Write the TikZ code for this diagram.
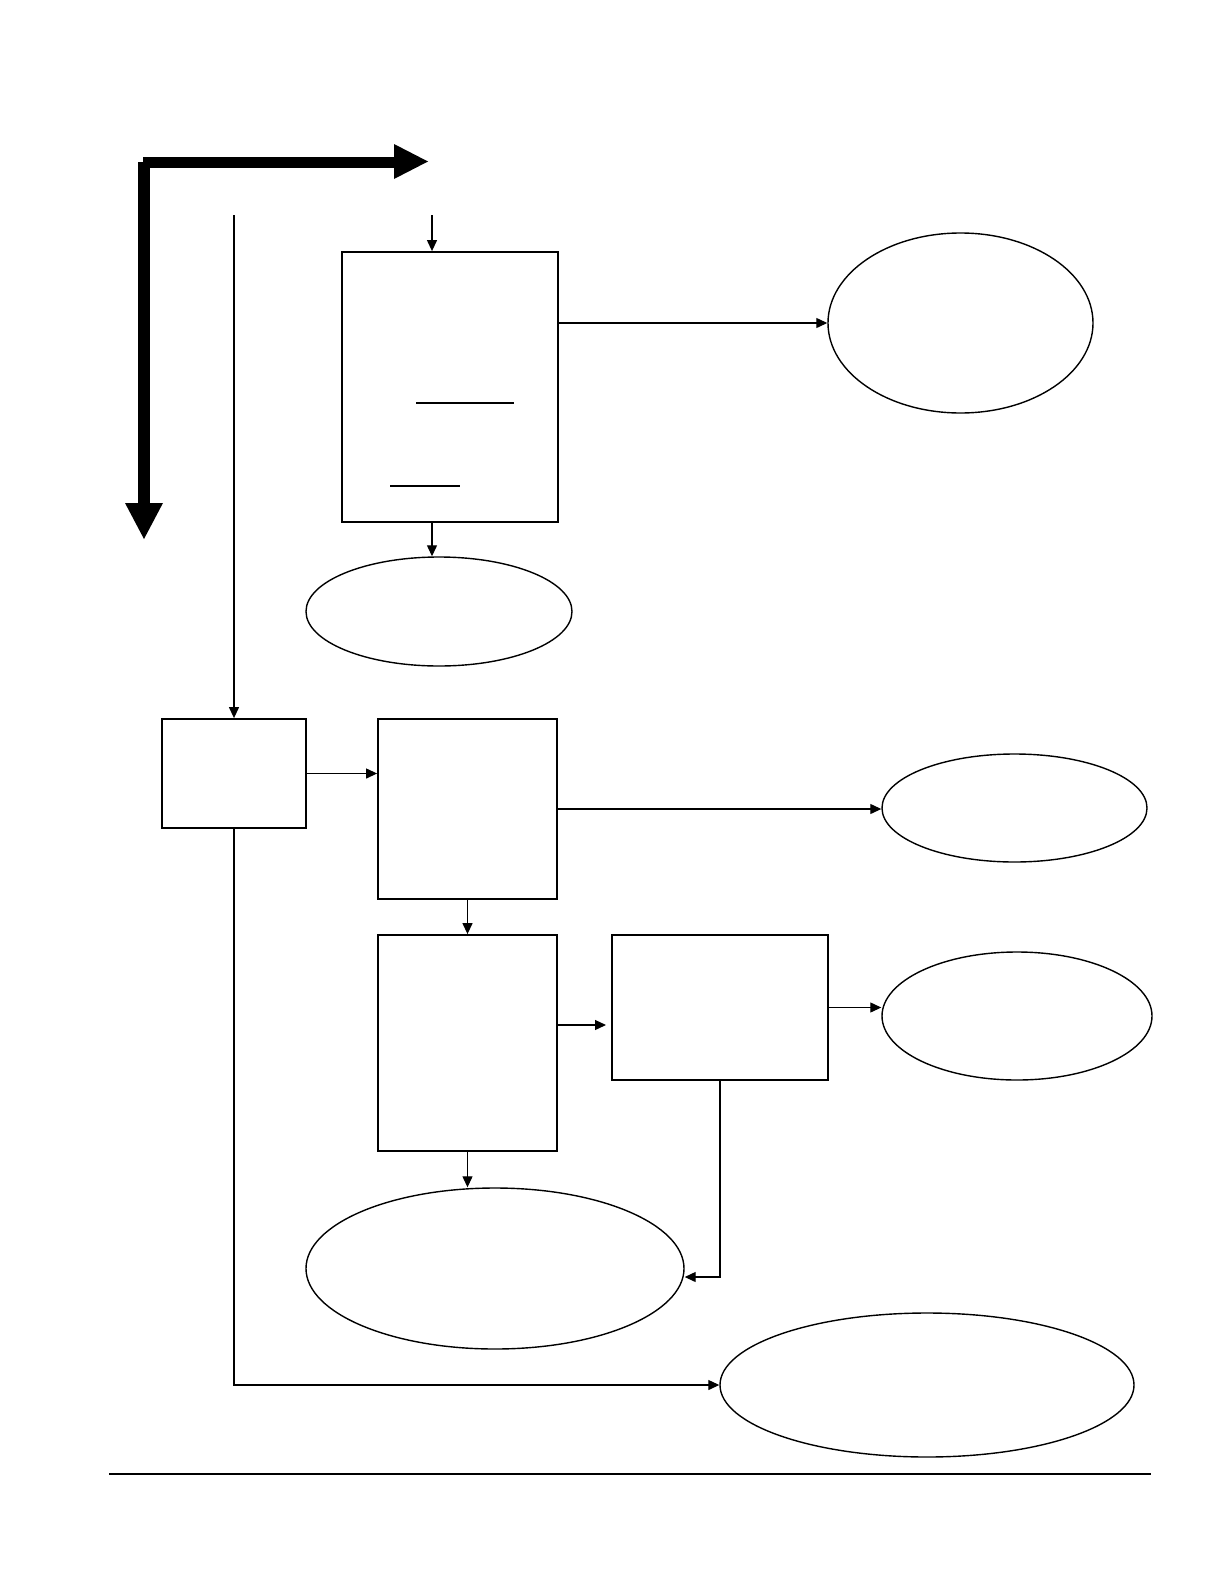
\documentclass[tikz,border=0pt]{standalone}
\usetikzlibrary{shapes.geometric,arrows.meta,calc}
\begin{document}
\begin{tikzpicture}[x=1pt,y=-1pt,
  box/.style={draw,line width=1.8pt,rectangle,inner sep=0pt},
  oval/.style={draw,line width=1.4pt,ellipse,inner sep=0pt},
  arr/.style={line width=1.2pt,-{Triangle[length=11pt,width=10pt]}},
  plain/.style={line width=1.2pt}]
\useasboundingbox (0,0) rectangle (1224,1584);
% thick L arrow
\fill (138,162) rectangle (150,505);
\fill (125,503) -- (163,503) -- (144,539) -- cycle;
\fill (143,157) rectangle (396,168);
\fill (394,144) -- (394,179) -- (428,161.5) -- cycle;
% boxes
\node[box,minimum width=216pt,minimum height=270pt] (b1) at (450,387) {};
\node[box,minimum width=144pt,minimum height=109pt] (bA) at (234,773.5) {};
\node[box,minimum width=179pt,minimum height=180pt] (bB) at (467.5,809) {};
\node[box,minimum width=179pt,minimum height=216pt] (bC) at (467.5,1043) {};
\node[box,minimum width=216pt,minimum height=145pt] (bD) at (720,1007.5) {};
% ellipses
\node[oval,minimum width=265pt,minimum height=180pt] (e1) at (960.5,323) {};
\node[oval,minimum width=266pt,minimum height=109pt] (e2) at (439,611.5) {};
\node[oval,minimum width=265pt,minimum height=108pt] (e3) at (1014.5,808) {};
\node[oval,minimum width=270pt,minimum height=128pt] (e4) at (1017,1016) {};
\node[oval,minimum width=378pt,minimum height=161pt] (e5) at (495,1268.5) {};
\node[oval,minimum width=414pt,minimum height=144pt] (e6) at (927,1385) {};
% underlines inside box 1
\draw[line width=1.1pt] (416,403) -- (514,403);
\draw[line width=1.1pt] (390,486) -- (460,486);
% free ends
\coordinate (t1) at (432,215);
\coordinate (tA) at (234,215);
\coordinate (cD) at (606,1025);
\coordinate (j5) at ($(e5.east)+(0,8.5)$);
% connectors
\draw[arr] (t1) -- (t1 |- b1.north);
\draw[arr] (tA) -- (bA.north);
\draw[arr] (b1.east |- e1.west) -- (e1.west);
\draw[arr] (b1.south -| t1) -- (t1 |- e2.north);
\draw[arr] (bA.east) -- (bA.east -| bB.west);
\draw[arr] (bB.east) -- (bB.east -| e3.west);
\draw[arr] (bB.south) -- (bC.north);
\draw[arr] (bC.east |- cD) -- (cD);
\draw[arr] (bD.east) -- (bD.east -| e4.west);
\draw[arr] (bC.south) -- (bC.south |- e5.north);
\draw[arr] (bD.south) |- (j5);
\draw[arr] (bA.south) |- (e6.west);
% bottom rule
\draw[line width=2.5pt] (109,1474) -- (1151,1474);
\end{tikzpicture}
\end{document}
